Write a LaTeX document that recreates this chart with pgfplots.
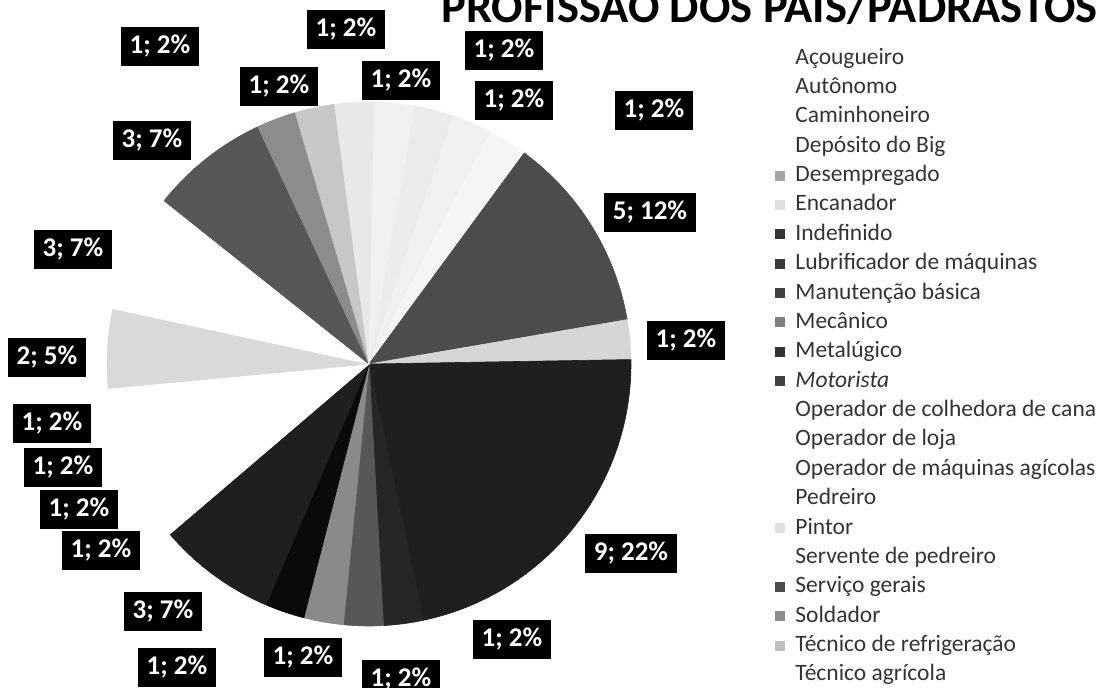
\documentclass[border=0pt]{standalone}
\usepackage{pgfplots}
\usepackage{pgfplotstable}
\pgfplotsset{compat=1.18}
\usepackage{fontspec}
\setmainfont{Carlito}

% value = count, pct = percent shown, shade = black% of slice, mark = black% of legend key (0 = none)
% lx, ly = position of the data label (pixels from top-left)
\pgfplotstableread[col sep=comma]{
name,value,pct,shade,mark,lx,ly
Açougueiro,1,2,8,0,504,50
Autônomo,1,2,6,0,514,100
Caminhoneiro,1,2,4,0,654,110
Depósito do Big,5,12,70,0,650,212
Desempregado,1,2,16,35,686,340
Encanador,9,22,88,12,631,553
Indefinido,1,2,85,80,512,639
Lubrificador de máquinas,1,2,66,78,401,679
Manutenção básica,1,2,46,75,303,657
Mecânico,1,2,96,50,177,667
Metalúgico,3,7,88,80,163,611
Motorista,1,2,0,75,101,550
Operador de colhedora de cana,1,2,0,0,79,509
Operador de loja,1,2,0,0,63,467
Operador de máquinas agícolas,1,2,0,0,52,423
Pedreiro,2,5,15,0,47,357
Pintor,3,7,0,12,73,249
Servente de pedreiro,3,7,66,0,152,140
Serviço gerais,1,2,45,70,160,46
Soldador,1,2,22,45,279,86
Técnico de refrigeração,1,2,9,25,346,29
Técnico agrícola,1,2,6,0,401,80
}\datatable

\begin{document}
\begin{tikzpicture}
\begin{axis}[
  x=0.5pt, y=0.5pt, scale only axis,
  xmin=0, xmax=1102, ymin=0, ymax=687, y dir=reverse,
  hide axis, clip=false,
]
\addplot[draw=none, forget plot] coordinates {(0,0) (1102,687)};
\coordinate (TL) at (axis cs:0,0);
\coordinate (BR) at (axis cs:1102,687);
\pgfplotsextra{%
  \xdef\cum{0}%
  \xdef\tot{0}%
  \foreach \i in {0,...,21}{%
    \pgfplotstablegetelem{\i}{value}\of\datatable
    \pgfmathsetmacro\t{\tot+\pgfplotsretval}\xdef\tot{\t}}%
  % slices
  \foreach \i in {0,...,21}{%
    \pgfplotstablegetelem{\i}{value}\of\datatable \edef\v{\pgfplotsretval}%
    \pgfplotstablegetelem{\i}{shade}\of\datatable \edef\s{\pgfplotsretval}%
    \pgfmathsetmacro\sa{80-\cum*360/\tot}%
    \pgfmathsetmacro\c{\cum+\v}\xdef\cum{\c}%
    \pgfmathsetmacro\ea{80-\cum*360/\tot}%
    \filldraw[fill=black!\s, draw=black!\s, line width=0.3pt, line join=round]
      (axis cs:369,364) -- ++(\sa:131pt) arc[start angle=\sa, end angle=\ea, radius=131pt] -- cycle;
  }%
  % data labels and legend
  \foreach \i in {0,...,21}{%
    \pgfplotstablegetelem{\i}{value}\of\datatable \edef\v{\pgfplotsretval}%
    \pgfplotstablegetelem{\i}{pct}\of\datatable \edef\p{\pgfplotsretval}%
    \pgfplotstablegetelem{\i}{lx}\of\datatable \edef\lx{\pgfplotsretval}%
    \pgfplotstablegetelem{\i}{ly}\of\datatable \edef\ly{\pgfplotsretval}%
    \pgfplotstablegetelem{\i}{mark}\of\datatable \edef\mk{\pgfplotsretval}%
    \pgfplotstablegetelem{\i}{name}\of\datatable \let\nm\pgfplotsretval
    \node[fill=black, text=white, inner xsep=4.5pt, inner ysep=0pt, minimum height=19.5pt,
          font=\bfseries\fontsize{13.5}{15}\selectfont] at (axis cs:\lx,\ly) {\v; \p\%};
    \pgfmathsetmacro\yy{58+\i*29.38}%
    \pgfmathsetmacro\yb{\yy+6}%
    \pgfmathsetmacro\ya{\yy-5}%
    \pgfmathsetmacro\yc{\yy+5}%
    \node[anchor=base west, inner sep=0pt, text=black!80,
          font=\fontsize{11.75}{14}\selectfont] at (axis cs:795,\yb) {\ifnum\i=11 \itshape\fi\nm};
    \ifnum\mk>0
      \fill[black!\mk] (axis cs:775,\ya) rectangle (axis cs:785,\yc);
    \fi
  }%
  \node[anchor=base west, inner sep=0pt, font=\bfseries\fontsize{23.25}{28}\selectfont]
     at (axis cs:441,22) {PROFISSÃO DOS PAIS/PADRASTOS};
}
\end{axis}
\pgfresetboundingbox
\useasboundingbox (TL) rectangle (BR);
\end{tikzpicture}
\end{document}
